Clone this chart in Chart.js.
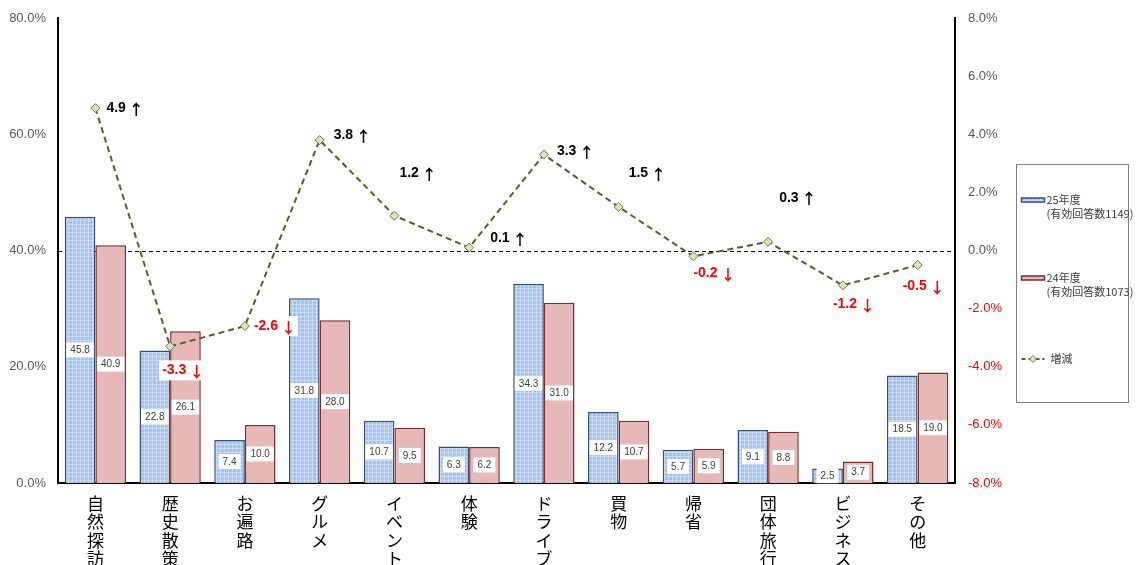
<!DOCTYPE html>
<html><head><meta charset="utf-8">
<script src="https://cdn.jsdelivr.net/npm/chart.js@4.4.1/dist/chart.umd.min.js"></script>
<style>html,body{margin:0;padding:0;background:#fff;}#wrap{width:1140px;height:565px;position:relative;}</style>
</head><body><div id="wrap"><canvas id="c" width="1140" height="565"></canvas></div>
<script>
const categories = ['自然探訪','歴史散策','お遍路','グルメ','イベント','体験','ドライブ','買物','帰省','団体旅行','ビジネス','その他'];
const values25 = [45.8,22.8,7.4,31.8,10.7,6.3,34.3,12.2,5.7,9.1,2.5,18.5];
const values24 = [40.9,26.1,10.0,28.0,9.5,6.2,31.0,10.7,5.9,8.8,3.7,19.0];
const diffValues = [4.9,-3.3,-2.6,3.8,1.2,0.1,3.3,1.5,-0.2,0.3,-1.2,-0.5];
const seriesNames = ['25年度','24年度','増減'];
const seriesNotes = ['(有効回答数1149)','(有効回答数1073)',''];
const leftTicks = [0,20,40,60,80];
const rightTicks = [-8,-6,-4,-2,0,2,4,6,8];
// label offsets for change annotations (style only)
const annOffsets = [[11,0],[-8,24],[9,0],[14,-5],[5,-42],[21,-9],[13,-3],[10,-34],[0,17],[11,-44],[-10,19],[-15,21]];

const FONT = "'Liberation Sans', Arial, 'Noto Sans CJK JP', sans-serif";
const JFONT = "'Noto Sans CJK JP', 'Liberation Sans', sans-serif";

function makePattern(){
  const p = document.createElement('canvas'); p.width=4; p.height=4;
  const g = p.getContext('2d');
  g.fillStyle='#a2c1ed'; g.fillRect(0,0,4,4);
  g.fillStyle='#c9dcf6'; g.fillRect(0,0,4,1); g.fillRect(0,0,1,4);
  return document.getElementById('c').getContext('2d').createPattern(p,'repeat');
}
const bluePat = makePattern();

const zeroLine = {
  id:'zeroLine',
  beforeDatasetsDraw(chart){
    const {ctx, chartArea:a} = chart; const y = chart.scales.y1.getPixelForValue(0);
    ctx.save(); ctx.strokeStyle='#000'; ctx.lineWidth=1; ctx.setLineDash([4,3]);
    ctx.beginPath(); ctx.moveTo(a.left, Math.round(y)+0.5); ctx.lineTo(a.right, Math.round(y)+0.5); ctx.stroke(); ctx.restore();
  }
};

const labels = {
  id:'labels',
  afterDatasetsDraw(chart){
    const ctx = chart.ctx; ctx.save();
    [1,2].forEach(di=>{
      const meta = chart.getDatasetMeta(di);
      meta.data.forEach((el,i)=>{
        const v = chart.data.datasets[di].data[i];
        const t = v.toFixed(1);
        ctx.font = '10px '+FONT;
        const w = ctx.measureText(t).width + 8, h = 15;
        const cx = el.x, cy = (el.y + el.base)/2;
        ctx.fillStyle='#fff'; ctx.fillRect(cx-w/2, cy-h/2, w, h);
        ctx.fillStyle='#404040'; ctx.textAlign='center'; ctx.textBaseline='middle';
        ctx.fillText(t, cx, cy+0.5);
      });
    });
    const meta = chart.getDatasetMeta(0);
    meta.data.forEach((el,i)=>{
      const v = chart.data.datasets[0].data[i];
      const num = v.toFixed(1) + ' ';
      const arrow = v>=0 ? '↑' : '↓';
      const x = el.x + annOffsets[i][0], y = el.y + annOffsets[i][1];
      ctx.font = 'bold 14px '+FONT;
      const w1 = ctx.measureText(num).width;
      ctx.font = 'bold 15px '+JFONT;
      const w2 = ctx.measureText(arrow).width;
      ctx.fillStyle='#fff'; ctx.fillRect(x-3, y-10, w1+w2+4, 20);
      ctx.fillStyle = v>=0 ? '#000' : '#ff0000';
      ctx.textAlign='left'; ctx.textBaseline='middle';
      ctx.font = 'bold 14px '+FONT; ctx.fillText(num, x, y);
      ctx.font = 'bold 15px '+JFONT; ctx.fillText(arrow, x+w1-1, y+1);
    });
    ctx.restore();
  }
};

const legendBox = {
  id:'legendBox',
  afterDraw(chart){
    const ctx = chart.ctx; const a = chart.chartArea;
    const L = a.right + 61.5, T = 164.5, W = 112, H = 238;
    ctx.save();
    ctx.strokeStyle='#7f7f7f'; ctx.lineWidth=1; ctx.strokeRect(L, T, W, H);
    ctx.font = '11px '+JFONT; ctx.textBaseline='middle'; ctx.textAlign='left';
    const rows = [35.5, 113.5, 194.5];
    [[1,'#3b4f72'],[2,'#7b2c2c']].forEach(([di,bc],k)=>{
      const y = T + rows[k];
      const ds = chart.data.datasets[di];
      ctx.fillStyle = ds.backgroundColor; ctx.fillRect(L+5, y-2, 23, 4);
      ctx.strokeStyle = bc; ctx.lineWidth=1.5; ctx.strokeRect(L+5, y-2, 23, 4);
      ctx.fillStyle='#404040';
      ctx.fillText(seriesNames[di-1], L+30, y);
      ctx.fillText(seriesNotes[di-1], L+30, y+14);
    });
    const y = T + rows[2];
    ctx.strokeStyle='#4f6228'; ctx.lineWidth=2; ctx.setLineDash([4,3]);
    ctx.beginPath(); ctx.moveTo(L+5,y); ctx.lineTo(L+28,y); ctx.stroke(); ctx.setLineDash([]);
    ctx.fillStyle='#d7e4bd'; ctx.strokeStyle='#6b7f3a'; ctx.lineWidth=1;
    ctx.beginPath(); ctx.moveTo(L+16.5,y-3.5); ctx.lineTo(L+20,y); ctx.lineTo(L+16.5,y+3.5); ctx.lineTo(L+13,y); ctx.closePath(); ctx.fill(); ctx.stroke();
    ctx.fillStyle='#404040'; ctx.fillText(seriesNames[2], L+34, y);
    ctx.restore();
  }
};

new Chart(document.getElementById('c'), {
  data:{
    labels: categories.map(c=>Array.from(c)),
    datasets:[
      {type:'line', label:seriesNames[2], data:diffValues, yAxisID:'y1', order:0,
       borderColor:'#4f6228', borderWidth:2, borderDash:[6,4], fill:false, tension:0,
       pointStyle:'rectRot', pointRadius:4.5, pointBackgroundColor:'#d7e4bd', pointBorderColor:'#6b7f3a', pointBorderWidth:1},
      {type:'bar', label:seriesNames[0], data:values25, yAxisID:'y', order:1,
       backgroundColor:bluePat, borderColor:'#3b4f72', borderWidth:{top:1.5,left:1.5,right:1.5,bottom:0},
       categoryPercentage:0.82, barPercentage:1.0},
      {type:'bar', label:seriesNames[1], data:values24, yAxisID:'y', order:2,
       backgroundColor:'#e6b8b7', borderColor:'#7b2c2c', borderWidth:{top:1.5,left:1.5,right:1.5,bottom:0},
       categoryPercentage:0.82, barPercentage:1.0}
    ]
  },
  options:{
    responsive:false, animation:false,
    layout:{padding:{top:18,left:0,right:0,bottom:0}},
    plugins:{legend:{display:false}, tooltip:{enabled:false}},
    scales:{
      x:{grid:{display:false}, border:{color:'#000',width:2},
         ticks:{color:'#000', font:{family:JFONT,size:17,lineHeight:'18.5px'}, padding:3, maxRotation:0, autoSkip:false},
         afterFit(s){s.height=82;}},
      y:{position:'left', min:0, max:80, grid:{display:false}, border:{color:'#000',width:2},
         afterBuildTicks(s){s.ticks = leftTicks.map(v=>({value:v}));},
         ticks:{color:'#595959', font:{family:FONT,size:13}, padding:4, callback:v=>v.toFixed(1)+'%'},
         afterFit(s){s.width=58;}},
      y1:{position:'right', min:-8, max:8, grid:{display:false}, border:{color:'#000',width:2},
         afterBuildTicks(s){s.ticks = rightTicks.map(v=>({value:v}));},
         ticks:{color:c=>c.tick.value<0?'#ff0000':'#595959', font:{family:FONT,size:13}, padding:5, callback:v=>v.toFixed(1)+'%'},
         afterFit(s){s.width=185;}}
    }
  },
  plugins:[zeroLine, labels, legendBox]
});
</script></body></html>
